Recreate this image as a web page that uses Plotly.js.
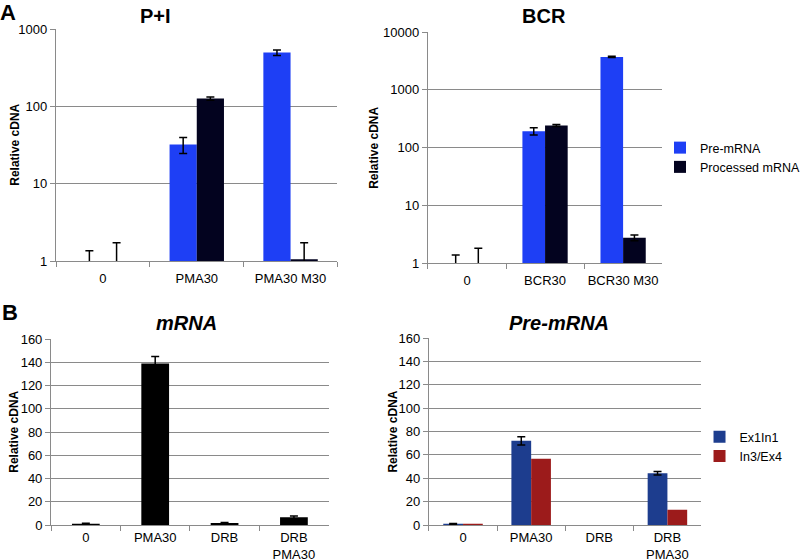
<!DOCTYPE html>
<html><head><meta charset="utf-8">
<script src="https://cdn.plot.ly/plotly-3.0.1.min.js"></script>
<style>html,body{margin:0;padding:0;background:#fff}#c{width:805px;height:560px}</style>
</head><body><div id="c"></div>
<script>
// Panel A, P+I
const catsPI = ["0", "PMA30", "PMA30 M30"];
const piPre = [1.0, 32, 495];
const piPreErr = [0.36, 7.5, 42];
const piProc = [1.0, 126, 1.05];
const piProcErr = [0.72, 6, 0.67];
// Panel A, BCR
const catsBCR = ["0", "BCR30", "BCR30 M30"];
const bcrPre = [1.0, 192, 3700];
const bcrPreErr = [0.37, 27, 100];
const bcrProc = [1.0, 240, 2.74];
const bcrProcErr = [0.8, 10, 0.3];
// Panel B, mRNA
const catsB = ["0", "PMA30", "DRB", "DRB<br>PMA30"];
const mrna = [1.1, 139, 1.8, 6.6];
const mrnaErr = [0.3, 6, 0.3, 1.2];
// Panel B, Pre-mRNA
const ex1in1 = [1.0, 72, 0, 44.2];
const ex1in1Err = [0.3, 3.5, NaN, 1.5];
const in3ex4 = [1.0, 56.7, 0, 13.1];
// log tick labels
const logTickVals = [1, 10, 100, 1000, 10000];
const logTickText = ["1", "10", "100", "1000", "10000"];

const cPre = "#1e3ff5", cProc = "#03031f", cEx = "#1d3d8e", cIn = "#9c1b1b";
const errStyle = (arr) => ({type: "data", array: arr, visible: true, color: "#000", thickness: 1.5, width: 4});
const F = "Liberation Sans, Arial, sans-serif";

const traces = [
  {type: "bar", x: catsPI, y: piPre, name: "Pre-mRNA", marker: {color: cPre}, error_y: errStyle(piPreErr), xaxis: "x", yaxis: "y", showlegend: false},
  {type: "bar", x: catsPI, y: piProc, name: "Processed mRNA", marker: {color: cProc}, error_y: errStyle(piProcErr), xaxis: "x", yaxis: "y", showlegend: false},
  {type: "bar", x: catsBCR, y: bcrPre, name: "Pre-mRNA", marker: {color: cPre}, error_y: errStyle(bcrPreErr), xaxis: "x2", yaxis: "y2", legend: "legend"},
  {type: "bar", x: catsBCR, y: bcrProc, name: "Processed mRNA", marker: {color: cProc}, error_y: errStyle(bcrProcErr), xaxis: "x2", yaxis: "y2", legend: "legend"},
  {type: "bar", x: catsB, y: mrna, name: "mRNA", marker: {color: "#000"}, width: 0.4, error_y: errStyle(mrnaErr), xaxis: "x3", yaxis: "y3", showlegend: false},
  {type: "bar", x: catsB, y: ex1in1, name: "Ex1In1", marker: {color: cEx}, error_y: errStyle(ex1in1Err), xaxis: "x4", yaxis: "y4", legend: "legend2"},
  {type: "bar", x: catsB, y: in3ex4, name: "In3/Ex4", marker: {color: cIn}, xaxis: "x4", yaxis: "y4", legend: "legend2"}
];

const W = 805, H = 560;
const px = (v) => v / W, py = (v) => 1 - v / H;
const gridC = "#8a8a8a";
const xa = (l, r, so) => ({type: "category", domain: [px(l), px(r)], showline: true, linecolor: gridC, linewidth: 1.2, ticks: "outside", tickson: "boundaries", ticklen: 5, tickcolor: gridC, ticklabelstandoff: so, tickfont: {family: F, size: 13, color: "#000"}, showgrid: false, fixedrange: true});
const ya = (t, b, extra) => Object.assign({domain: [py(b), py(t)], showline: true, linecolor: gridC, linewidth: 1.2, ticks: "outside", ticklen: 5, tickcolor: gridC, gridcolor: gridC, gridwidth: 1, zeroline: false, tickfont: {family: F, size: 13, color: "#000"}}, extra);

const ann = (text, x, y, size, opts) => Object.assign({text: text, x: px(x), y: py(y), xref: "paper", yref: "paper", showarrow: false, font: {family: F, size: size, color: "#000"}, xanchor: "center", yanchor: "middle"}, opts || {});

const layout = {
  width: W, height: H,
  margin: {l: 0, r: 0, t: 0, b: 0},
  paper_bgcolor: "#fff", plot_bgcolor: "#fff",
  barmode: "group", bargap: 0.42, bargroupgap: 0,
  font: {family: F, color: "#000"},
  xaxis: Object.assign(xa(57, 343, 5), {anchor: "y"}),
  yaxis: ya(29, 261, {type: "log", range: [0, 3], tickmode: "array", tickvals: logTickVals, ticktext: logTickText, anchor: "x"}),
  xaxis2: Object.assign(xa(435, 673, 5), {anchor: "y2"}),
  yaxis2: ya(32, 263, {type: "log", range: [0, 4], tickmode: "array", tickvals: logTickVals, ticktext: logTickText, anchor: "x2"}),
  xaxis3: Object.assign(xa(52, 334, 0), {anchor: "y3"}),
  yaxis3: ya(339, 525, {range: [0, 160], dtick: 20, anchor: "x3"}),
  xaxis4: Object.assign(xa(436, 713, 0), {anchor: "y4"}),
  yaxis4: ya(338, 525, {range: [0, 160], dtick: 20, anchor: "x4"}),
  legend: {x: px(671), y: py(133), xanchor: "left", yanchor: "top", font: {family: F, size: 12.5, color: "#000"}, bgcolor: "rgba(0,0,0,0)", itemwidth: 30, tracegroupgap: 0, traceorder: "normal"},
  legend2: {x: px(711), y: py(422), xanchor: "left", yanchor: "top", font: {family: F, size: 12.5, color: "#000"}, bgcolor: "rgba(0,0,0,0)", itemwidth: 30, tracegroupgap: 0, traceorder: "normal"},
  annotations: [
    ann("<b>A</b>", 8, 12, 22),
    ann("<b>B</b>", 10, 312, 22),
    ann("<b>P+I</b>", 158, 16, 20),
    ann("<b>BCR</b>", 553, 16, 20),
    ann("<b><i>mRNA</i></b>", 190, 323, 20),
    ann("<b><i>Pre-mRNA</i></b>", 568, 323, 20),
    ann("<b>Relative cDNA</b>", 15, 145, 12, {textangle: -90}),
    ann("<b>Relative cDNA</b>", 380, 148, 12, {textangle: -90}),
    ann("<b>Relative cDNA</b>", 14, 432, 12, {textangle: -90}),
    ann("<b>Relative cDNA</b>", 399, 432, 12, {textangle: -90})
  ]
};

Plotly.newPlot("c", traces, layout, {staticPlot: true, displayModeBar: false});
</script>
</body></html>
